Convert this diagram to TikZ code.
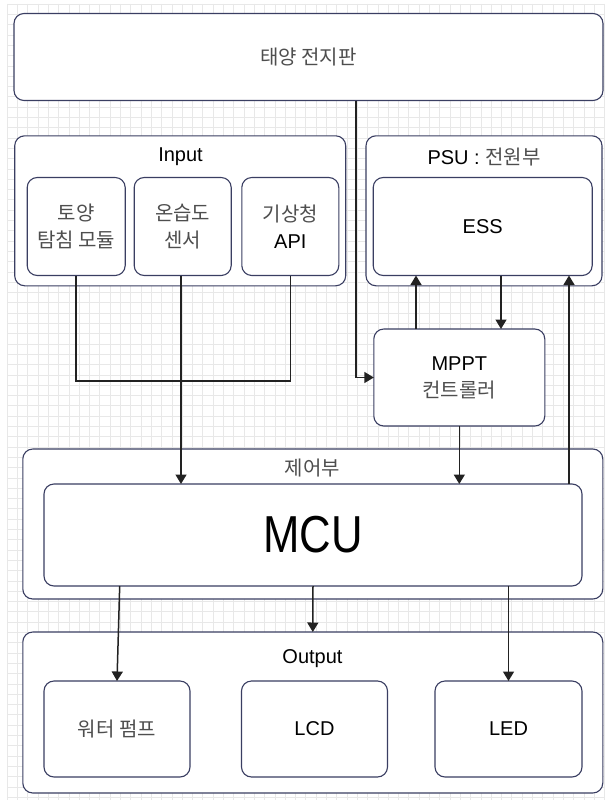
\documentclass[tikz,border=0pt]{standalone}
\usepackage{fontspec}
\setmainfont{Liberation Sans}
\newfontfamily\kr{Noto Sans CJK KR}
\newfontfamily\mcufont[FakeStretch=0.84]{Liberation Sans}
\usetikzlibrary{arrows.meta}
\definecolor{edge}{RGB}{58,62,98}
\definecolor{krc}{RGB}{78,78,78}
\definecolor{wire}{RGB}{34,34,34}
\definecolor{gridc}{RGB}{232,232,232}
\newcommand{\ko}[1]{{\kr\color{krc}#1}}
\tikzset{
  box/.style={draw=edge, line width=1.1pt, fill=white, rounded corners=10pt,
    inner sep=0pt, outer sep=0pt, align=center, font=\fontsize{20}{27}\selectfont},
  lbl/.style={inner sep=0pt, align=center, font=\fontsize{20}{27}\selectfont},
  wireline/.style={draw=wire, line width=1.5pt},
  arrowline/.style={wireline, -{Triangle[width=11pt,length=9.5pt]}},
}
\begin{document}
\begin{tikzpicture}[x=1pt,y=-1pt]
\useasboundingbox (0,0) rectangle (605,800);
\fill[white] (0,0) rectangle (605,800);
% background grid
\foreach \i in {0,...,58} \draw[gridc, line width=0.5pt] ({7+\i*10.3},4) -- ({7+\i*10.3},800);
\foreach \j in {0,...,77} \draw[gridc, line width=0.5pt] (7,{4+\j*10.3}) -- (605,{4+\j*10.3});

% boxes
\node[box, minimum width=589pt, minimum height=87pt] (solar) at (308.5,57) {\ko{태양 전지판}};

\node[box, minimum width=331pt, minimum height=150pt] (input) at (180.2,210.8) {};
\node[lbl] (inputlbl) at (180.5,157) {Input};
\node[box, minimum width=98pt, minimum height=98pt] (soil) at (76.2,226.5) {\ko{토양}\\\ko{탐침 모듈}};
\node[box, minimum width=97pt, minimum height=98pt] (hum) at (182.7,226.5) {\ko{온습도}\\\ko{센서}};
\node[box, minimum width=97pt, minimum height=98pt] (api) at (290.3,226.5) {\ko{기상청}\\API};

\node[box, minimum width=236pt, minimum height=150pt] (psu) at (484,210.8) {};
\node[lbl] (psulbl) at (484,157) {PSU : \ko{전원부}};
\node[box, minimum width=219pt, minimum height=98pt] (ess) at (482.7,226.5) {ESS};

\node[box, minimum width=171pt, minimum height=97pt] (mppt) at (459.3,377.5) {MPPT\\\ko{컨트롤러}};

\node[box, minimum width=580pt, minimum height=150pt] (ctrl) at (312.8,524) {};
\node[lbl] (ctrllbl) at (312.5,468) {\ko{제어부}};
\node[box, minimum width=538pt, minimum height=102pt, font=\mcufont\fontsize{52}{60}\selectfont] (mcu) at (313,535) {MCU};

\node[box, minimum width=580pt, minimum height=161pt] (out) at (312.8,712.5) {};
\node[lbl] (outlbl) at (312.5,659) {Output};
\node[box, minimum width=146pt, minimum height=96pt] (pump) at (117,729) {\ko{워터 펌프}};
\node[box, minimum width=146pt, minimum height=96pt] (lcd) at (314.5,729) {LCD};
\node[box, minimum width=147pt, minimum height=96pt] (led) at (508.5,729) {LED};

% helper coordinates
\coordinate (sx) at (356,0);
\coordinate (join) at (181,381);
\coordinate (x416) at (416,0);
\coordinate (x501) at (501,0);
\coordinate (x569) at (569,0);
\coordinate (x120) at (119.7,0);

% connectors
\draw[arrowline] (solar.south -| sx) |- (mppt.west);
\draw[wireline] (soil.south) |- (join) -| (api.south);
\draw[arrowline] (hum.south -| join) -- (mcu.north -| join);
\draw[arrowline] (mppt.north -| x416) -- (ess.south -| x416);
\draw[arrowline] (ess.south -| x501) -- (mppt.north -| x501);
\draw[arrowline] (mppt.south) -- (mppt.south |- mcu.north);
\draw[arrowline] (mcu.north -| x569) -- (ess.south -| x569);
\draw[arrowline] (mcu.south -| x120) -- (pump.north);
\draw[arrowline] (mcu.south) -- (out.north);
\draw[arrowline] (mcu.south -| led.north) -- (led.north);
\end{tikzpicture}
\end{document}
